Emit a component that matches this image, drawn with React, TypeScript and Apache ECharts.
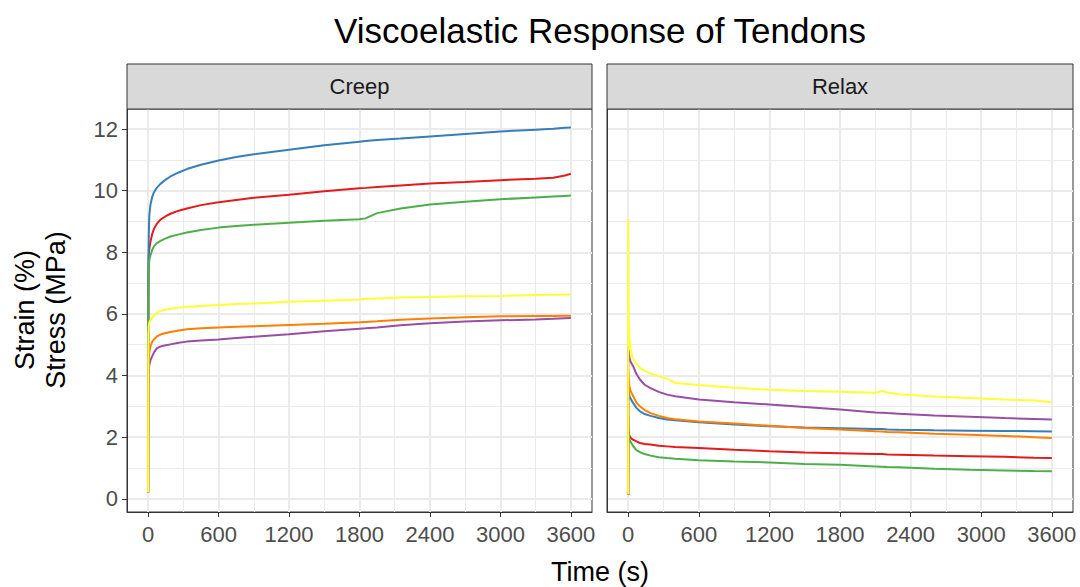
import React, { useEffect, useRef } from "react";
import * as echarts from "echarts";

const COLORS = ["#E41A1C", "#377EB8", "#4DAF4A", "#984EA3", "#FF7F00", "#FFFF33"];
const SERIES_NAMES = ["S1", "S2", "S3", "S4", "S5", "S6"];
const PANELS = ["Creep", "Relax"];
const X_TICKS = [0, 600, 1200, 1800, 2400, 3000, 3600];
const X_MINOR = [300, 900, 1500, 2100, 2700, 3300];
const Y_TICKS = [0, 2, 4, 6, 8, 10, 12];
const Y_MINOR = [1, 3, 5, 7, 9, 11];

// Creep panel (strain %)
const TIME_CREEP = [0, 2, 5, 10, 20, 35, 50, 75, 105, 150, 190, 260, 330, 450, 600, 750, 900, 1200, 1500, 1800, 1850, 1950, 2150, 2400, 2700, 3000, 3300, 3450, 3550, 3600];
const CREEP_RED = [0.2, 7.0, 7.9, 8.1, 8.35, 8.6, 8.76, 8.93, 9.06, 9.17, 9.25, 9.35, 9.42, 9.53, 9.62, 9.7, 9.77, 9.87, 9.98, 10.08, 10.09, 10.12, 10.17, 10.23, 10.28, 10.34, 10.39, 10.42, 10.49, 10.55];
const CREEP_BLUE = [0.2, 7.2, 8.5, 9.2, 9.55, 9.8, 9.95, 10.1, 10.22, 10.36, 10.46, 10.59, 10.7, 10.84, 10.98, 11.09, 11.18, 11.33, 11.47, 11.59, 11.61, 11.64, 11.69, 11.76, 11.84, 11.92, 11.98, 12.01, 12.04, 12.05];
const CREEP_GREEN = [0.2, 5.4, 7.55, 7.75, 7.9, 8.08, 8.2, 8.3, 8.37, 8.45, 8.51, 8.58, 8.64, 8.72, 8.8, 8.85, 8.89, 8.96, 9.02, 9.07, 9.1, 9.27, 9.42, 9.55, 9.64, 9.72, 9.78, 9.81, 9.83, 9.84];
const CREEP_PURPLE = [0.2, 3.5, 4.2, 4.35, 4.5, 4.63, 4.75, 4.89, 4.94, 4.98, 5.01, 5.06, 5.1, 5.14, 5.17, 5.22, 5.26, 5.34, 5.44, 5.52, 5.53, 5.56, 5.63, 5.7, 5.75, 5.79, 5.82, 5.84, 5.86, 5.87];
const CREEP_ORANGE = [0.2, 4.0, 4.52, 4.75, 4.95, 5.1, 5.17, 5.27, 5.33, 5.38, 5.41, 5.46, 5.5, 5.53, 5.56, 5.58, 5.6, 5.64, 5.68, 5.73, 5.74, 5.76, 5.81, 5.85, 5.89, 5.92, 5.93, 5.93, 5.94, 5.94];
const CREEP_YELLOW = [0.2, 5.3, 5.6, 5.72, 5.8, 5.88, 5.95, 6.04, 6.09, 6.14, 6.17, 6.2, 6.23, 6.26, 6.29, 6.32, 6.34, 6.39, 6.43, 6.47, 6.48, 6.5, 6.53, 6.55, 6.57, 6.58, 6.61, 6.62, 6.63, 6.63];

// Relax panel (stress MPa)
const TIME_RELAX = [0, 1, 4, 10, 20, 40, 70, 100, 140, 190, 260, 330, 400, 600, 900, 1200, 1500, 1800, 2100, 2160, 2200, 2300, 2600, 2900, 3200, 3450, 3600];
const RELAX_RED = [0.12, 2.35, 2.15, 2.05, 1.98, 1.92, 1.86, 1.81, 1.78, 1.76, 1.72, 1.7, 1.68, 1.65, 1.59, 1.54, 1.5, 1.48, 1.45, 1.45, 1.44, 1.43, 1.4, 1.38, 1.36, 1.33, 1.32];
const RELAX_BLUE = [0.12, 3.65, 3.5, 3.35, 3.25, 3.12, 2.95, 2.84, 2.75, 2.69, 2.62, 2.57, 2.55, 2.48, 2.41, 2.35, 2.31, 2.29, 2.26, 2.26, 2.25, 2.24, 2.22, 2.21, 2.2, 2.19, 2.18];
const RELAX_GREEN = [0.12, 2.73, 2.2, 1.95, 1.85, 1.72, 1.58, 1.51, 1.45, 1.4, 1.35, 1.32, 1.3, 1.25, 1.21, 1.18, 1.13, 1.1, 1.05, 1.04, 1.03, 1.02, 0.97, 0.94, 0.92, 0.9, 0.89];
const RELAX_PURPLE = [0.12, 4.9, 4.8, 4.6, 4.45, 4.32, 4.05, 3.87, 3.7, 3.59, 3.47, 3.38, 3.33, 3.22, 3.13, 3.06, 2.98, 2.9, 2.8, 2.79, 2.78, 2.76, 2.7, 2.66, 2.62, 2.59, 2.57];
const RELAX_ORANGE = [0.12, 4.2, 3.95, 3.65, 3.5, 3.35, 3.12, 3.0, 2.88, 2.78, 2.69, 2.62, 2.58, 2.51, 2.44, 2.37, 2.3, 2.25, 2.19, 2.18, 2.17, 2.16, 2.11, 2.08, 2.04, 2.0, 1.97];
const RELAX_YELLOW = [0.15, 9.07, 6.0, 5.25, 4.85, 4.55, 4.38, 4.25, 4.15, 4.07, 3.98, 3.9, 3.76, 3.69, 3.6, 3.54, 3.5, 3.47, 3.44, 3.5, 3.45, 3.39, 3.32, 3.27, 3.22, 3.19, 3.13];

const CREEP_VALUES = [CREEP_RED, CREEP_BLUE, CREEP_GREEN, CREEP_PURPLE, CREEP_ORANGE, CREEP_YELLOW];
const RELAX_VALUES = [RELAX_RED, RELAX_BLUE, RELAX_GREEN, RELAX_PURPLE, RELAX_ORANGE, RELAX_YELLOW];

const FONT = "'Liberation Sans', Arial, sans-serif";

const GRIDS = [
  { left: 127, top: 109, width: 465, height: 403 },
  { left: 607, top: 109, width: 466, height: 403 },
];

export default function App() {
  const ref = useRef<HTMLDivElement>(null);

  useEffect(() => {
    if (!ref.current) return;
    const chart = echarts.init(ref.current, null, { renderer: "svg" });

    const xAxes: any[] = [];
    const yAxes: any[] = [];
    GRIDS.forEach((_, gi) => {
      xAxes.push({
        type: "value",
        gridIndex: gi,
        min: -180,
        max: 3780,
        axisLine: { show: true, onZero: false, lineStyle: { color: "#333333", width: 1 } },
        axisTick: { show: true, length: 5, customValues: X_TICKS, lineStyle: { color: "#333333", width: 1 } },
        axisLabel: {
          show: true,
          customValues: X_TICKS,
          formatter: (v: number) => String(v),
          fontSize: 22,
          color: "#4D4D4D",
          fontFamily: FONT,
          margin: 11,
        },
        splitLine: { show: true, lineStyle: { color: "#EBEBEB", width: 2 } },
      });
      yAxes.push({
        type: "value",
        gridIndex: gi,
        min: -0.43,
        max: 12.65,
        axisLine: { show: true, onZero: false, lineStyle: { color: "#333333", width: 1 } },
        axisTick: { show: gi === 0, length: 5, customValues: Y_TICKS, lineStyle: { color: "#333333", width: 1 } },
        axisLabel: {
          show: gi === 0,
          customValues: Y_TICKS,
          formatter: (v: number) => String(v),
          fontSize: 22,
          color: "#4D4D4D",
          fontFamily: FONT,
          margin: 9,
        },
        splitLine: { show: true, lineStyle: { color: "#EBEBEB", width: 2 } },
      });
    });
    GRIDS.forEach((_, gi) => {
      xAxes.push({
        type: "value",
        gridIndex: gi,
        min: -180,
        max: 3780,
        axisLine: { show: false },
        axisTick: { show: false, customValues: X_MINOR },
        axisLabel: { show: false },
        splitLine: { show: true, lineStyle: { color: "#EBEBEB", width: 1 } },
      });
      yAxes.push({
        type: "value",
        gridIndex: gi,
        min: -0.43,
        max: 12.65,
        axisLine: { show: false },
        axisTick: { show: false, customValues: Y_MINOR },
        axisLabel: { show: false },
        splitLine: { show: true, lineStyle: { color: "#EBEBEB", width: 1 } },
      });
    });

    const series: any[] = [];
    [
      { times: TIME_CREEP, values: CREEP_VALUES },
      { times: TIME_RELAX, values: RELAX_VALUES },
    ].forEach((panel, pi) => {
      panel.values.forEach((vals, si) => {
        series.push({
          type: "line",
          name: SERIES_NAMES[si],
          xAxisIndex: pi,
          yAxisIndex: pi,
          data: panel.times.map((t, i) => [t, vals[i]]),
          showSymbol: false,
          symbol: "none",
          lineStyle: { color: COLORS[si], width: 2 },
          itemStyle: { color: COLORS[si] },
          z: 3,
        });
      });
    });

    const graphics: any[] = [];
    GRIDS.forEach((g, gi) => {
      graphics.push({
        type: "rect",
        shape: { x: g.left, y: 64, width: g.width, height: g.top - 64 },
        style: { fill: "#D9D9D9", stroke: "#333333", lineWidth: 1 },
        z: 10,
      });
      graphics.push({
        type: "text",
        x: g.left + g.width / 2,
        y: (64 + g.top) / 2,
        style: {
          text: PANELS[gi],
          fontSize: 22,
          fontFamily: FONT,
          fill: "#1A1A1A",
          align: "center",
          verticalAlign: "middle",
        },
        z: 11,
      });
    });
    graphics.push({
      type: "text",
      x: 600,
      y: 30,
      style: {
        text: "Viscoelastic Response of Tendons",
        fontSize: 35,
        fontFamily: FONT,
        fill: "#000000",
        align: "center",
        verticalAlign: "middle",
      },
    });
    graphics.push({
      type: "text",
      x: 600,
      y: 572,
      style: {
        text: "Time (s)",
        fontSize: 27,
        fontFamily: FONT,
        fill: "#000000",
        align: "center",
        verticalAlign: "middle",
      },
    });
    graphics.push({
      type: "text",
      x: 40,
      y: 310,
      rotation: Math.PI / 2,
      style: {
        text: "Strain (%)\nStress (MPa)",
        fontSize: 27,
        lineHeight: 31,
        fontFamily: FONT,
        fill: "#000000",
        align: "center",
        verticalAlign: "middle",
      },
    });

    chart.setOption({
      animation: false,
      backgroundColor: "#FFFFFF",
      grid: GRIDS.map((g) => ({
        left: g.left,
        top: g.top,
        width: g.width,
        height: g.height,
        show: true,
        borderColor: "#333333",
        borderWidth: 1,
        backgroundColor: "#FFFFFF",
        containLabel: false,
      })),
      xAxis: xAxes,
      yAxis: yAxes,
      series,
      graphic: graphics,
    });

    return () => {
      chart.dispose();
    };
  }, []);

  return (
    <div
      ref={ref}
      style={{ position: "fixed", left: 0, top: 0, width: 1080, height: 587 }}
    />
  );
}
